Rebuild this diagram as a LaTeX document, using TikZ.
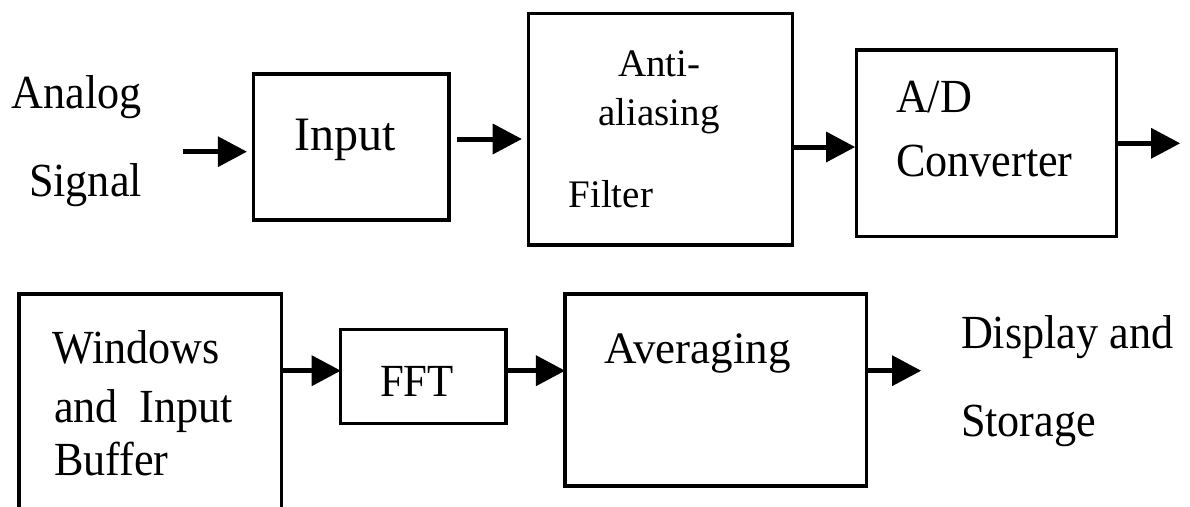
\documentclass[tikz,border=0pt]{standalone}
\usepackage{fontspec}
\setmainfont{Liberation Serif}
\newfontfamily\condfont{Liberation Serif}[FakeStretch=0.93]
\usetikzlibrary{arrows.meta}
\begin{document}
\begin{tikzpicture}[x=1pt,y=-1pt,
  box/.style={draw, line width=3.5pt, inner sep=0pt, outer sep=0pt, rectangle},
  lbl/.style={anchor=base west, inner sep=0pt, outer sep=0pt, font=\condfont\fontsize{47.5}{56}\selectfont},
  small/.style={font=\fontsize{39}{47}\selectfont},
  arr/.style={line width=5pt, -{Triangle[length=29pt,width=31pt,line width=0pt]}}]
\useasboundingbox (0,0) rectangle (1190,506);
\clip (0,0) rectangle (1190,506);
% boxes
\node[box, minimum width=195.7pt, minimum height=146pt] (in) at (351.2,147) {};
\node[box, minimum width=264pt, minimum height=231.7pt] (aa) at (660.3,129.2) {};
\node[box, minimum width=260pt, minimum height=186.7pt] (ad) at (986.7,143.3) {};
\node[box, minimum width=262.7pt, minimum height=260pt] (win) at (150.3,424) {};
\node[box, minimum width=165.3pt, minimum height=94pt] (fft) at (423.3,376.3) {};
\node[box, minimum width=301.7pt, minimum height=192pt] (avg) at (715.8,390) {};
% texts
\node[lbl] (tan) at (12,108.3) {Analog};
\node[lbl] (tsig) at (29,196.7) {Signal};
\node[lbl, font=\fontsize{48}{56}\selectfont] (tin) at (294.5,150.7) {Input};
\node[lbl, small] (tanti) at (618,76) {Anti-};
\node[lbl, small] (tali) at (598.5,125) {aliasing};
\node[lbl, small] (tfil) at (568.5,207.3) {Filter};
\node[lbl] (tad) at (896,112) {A/D};
\node[lbl] (tconv) at (896,176) {Converter};
\node[lbl] (twin) at (52.5,363.3) {Windows};
\node[lbl] (tand) at (54,422) {and\hspace{22pt}Input};
\node[lbl] (tbuf) at (54,475) {Buffer};
\node[lbl, font=\condfont\fontsize{46}{54}\selectfont] (tfft) at (380,396.7) {FFT};
\node[lbl, font=\fontsize{45}{54}\selectfont] (tavg) at (604,363.3) {Averaging};
\node[lbl] (tdisp) at (961,348.3) {Display and};
\node[lbl] (tsto) at (961,436.7) {Storage};
% connectors
\coordinate (s1) at (183.3,151.7);
\draw[arr, shorten >=6.6pt] (s1) -- (in.west |- s1);
\coordinate (r2) at (0,139);
\draw[arr, shorten <=8pt, shorten >=6.6pt] (in.east |- r2) -- (aa.west |- r2);
\coordinate (r3) at (0,147);
\draw[arr, shorten >=1.7pt] (aa.east |- r3) -- (ad.west |- r3);
\coordinate (e4) at (1180,143.3);
\draw[arr] (ad.east |- e4) -- (e4);
\coordinate (r5) at (0,370.7);
\draw[arr] (win.east |- r5) -- (fft.west |- r5);
\draw[arr] (fft.east |- r5) -- (avg.west |- r5);
\coordinate (e7) at (921,370.7);
\draw[arr] (avg.east |- e7) -- (e7);
\end{tikzpicture}
\end{document}
